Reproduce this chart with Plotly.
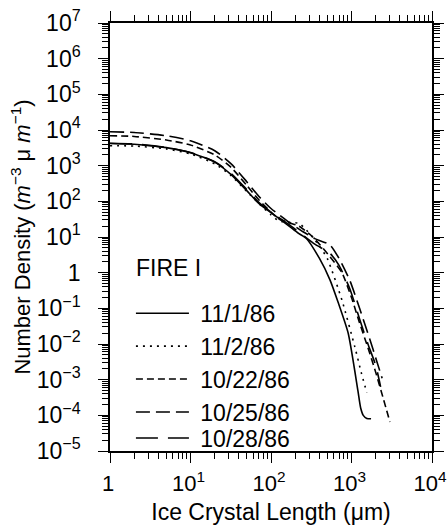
import plotly.graph_objects as go

# Ice crystal length (um) and number density (m^-3 um^-1) per date
L_1101 = [1, 2, 5, 10, 20, 32, 50, 70, 100, 160, 220, 275, 400, 540, 680, 910, 1200, 1300, 1400, 1550, 1750]
N_1101 = [4200, 4000, 3200, 2300, 1260, 560, 200, 89, 48, 22, 12.6, 9.1, 2.5, 0.63, 0.15, 0.02,
          5e-4, 1.6e-4, 1.0e-4, 8.2e-5, 8e-5]

L_1102 = [1, 2, 5, 10, 20, 32, 50, 70, 100, 126, 160, 224, 316, 400, 500, 760, 1100, 1320, 1550]
N_1102 = [3630, 3550, 2950, 2140, 1120, 525, 190, 89, 42, 28, 26, 24, 11, 5.6, 2.5, 0.17, 8.3e-3, 1.6e-3, 4.3e-4]

L_1022 = [1, 2, 5, 10, 20, 32, 50, 70, 100, 126, 160, 224, 316, 400, 540, 760, 1000, 1260, 1600, 2000, 2500, 3000]
N_1022 = [6900, 6600, 5250, 3800, 2000, 890, 280, 112, 50, 32, 26, 20, 11, 6.3, 2.8, 1.0, 0.2, 0.039,
          7.9e-3, 1.6e-3, 2.8e-4, 6.5e-5]

L_1025 = [1, 2, 5, 10, 20, 32, 50, 70, 100, 160, 250, 350, 540, 700, 955, 1260, 1700, 2040, 2400]
N_1025 = [8900, 8500, 6900, 5000, 2630, 1120, 355, 141, 63, 28, 14, 9, 6, 2.5, 0.6, 0.1, 0.013, 3.5e-3, 1.1e-3]

L_1028 = [1, 2, 5, 10, 20, 32, 50, 70, 100, 160, 250, 350, 540, 700, 955, 1260, 1600, 2000, 2300]
N_1028 = [4270, 4070, 3240, 2340, 1290, 600, 214, 95, 50, 24, 11.2, 6.3, 3.5, 1.6, 0.35, 0.05, 0.01, 2.5e-3, 6.3e-4]

series_names = ["11/1/86", "11/2/86", "10/22/86", "10/25/86", "10/28/86"]
series_x = [L_1101, L_1102, L_1022, L_1025, L_1028]
series_y = [N_1101, N_1102, N_1022, N_1025, N_1028]
series_dash = ["solid", "2px,5px", "7px,4px", "14px,6px", "22px,10px"]
series_legend = ["legend", "legend", "legend", "legend", "legend2"]
legend_title = "FIRE I"

x_tickvals = [1, 10, 100, 1000, 10000]
x_ticktext = ["1", "10<sup>1</sup>", "10<sup>2</sup>", "10<sup>3</sup>", "10<sup>4</sup>"]
y_tickvals = [1e-5, 1e-4, 1e-3, 1e-2, 1e-1, 1, 10, 1e2, 1e3, 1e4, 1e5, 1e6, 1e7]
y_ticktext = ["10<sup>−5</sup>", "10<sup>−4</sup>", "10<sup>−3</sup>", "10<sup>−2</sup>", "10<sup>−1</sup>", "1",
              "10<sup>1</sup>", "10<sup>2</sup>", "10<sup>3</sup>", "10<sup>4</sup>", "10<sup>5</sup>",
              "10<sup>6</sup>", "10<sup>7</sup>"]

x_minor = [m * 10 ** e for e in range(0, 4) for m in range(2, 10)]
y_minor = [m * 10.0 ** e for e in range(-5, 7) for m in range(2, 10)]

fig = go.Figure()
for name, xs, ys, dash, lg in zip(series_names, series_x, series_y, series_dash, series_legend):
    fig.add_trace(go.Scatter(x=xs, y=ys, mode="lines", name="\u00a0" + name, legend=lg,
                             line=dict(color="black", width=1.6, dash=dash, shape="spline", smoothing=0.6)))

font = "Liberation Sans, Arial, Helvetica, sans-serif"
axis_common = dict(type="log", showgrid=False, zeroline=False, showline=True, linecolor="black", linewidth=1.5,
                   mirror="ticks", ticks="outside", ticklen=10, tickwidth=1.3, tickcolor="black",
                   automargin=False, ticklabeloverflow="allow")
legend_common = dict(xanchor="left", yanchor="top", bgcolor="rgba(0,0,0,0)",
                     font=dict(size=23), itemwidth=53, tracegroupgap=0)

fig.update_layout(
    width=447, height=525,
    margin=dict(l=110, r=15, t=23, b=74),
    paper_bgcolor="white", plot_bgcolor="white",
    font=dict(family=font, color="black"),
    xaxis=dict(axis_common, range=[0, 4], tickvals=x_tickvals, ticktext=x_ticktext, ticklabelstandoff=2,
               ticklabelshift=-2,
               tickfont=dict(size=22, color="black", family=font),
               minor=dict(tickvals=x_minor, ticks="outside", ticklen=6, tickwidth=1, tickcolor="black", showgrid=False),
               title=dict(text="Ice Crystal Length (μm)", font=dict(size=23), standoff=10)),
    yaxis=dict(axis_common, range=[-5, 7], tickvals=y_tickvals, ticktext=y_ticktext, ticklabelstandoff=13,
               tickfont=dict(size=23, color="black", family=font),
               minor=dict(tickvals=y_minor, ticks="outside", ticklen=6, tickwidth=1, tickcolor="black", showgrid=False),
               title=dict(text="Number Density (<i>m</i><sup>−3</sup> μ <i>m</i><sup>−1</sup>)", font=dict(size=22), standoff=0)),
    legend=dict(legend_common, x=0.065, y=0.372),
    legend2=dict(legend_common, x=0.065, y=0.0806),
    annotations=[dict(text=legend_title, xref="paper", yref="paper", x=0.075, y=0.4276,
                      xanchor="left", yanchor="middle", showarrow=False, font=dict(size=23))],
)

fig.write_html("out.html")
